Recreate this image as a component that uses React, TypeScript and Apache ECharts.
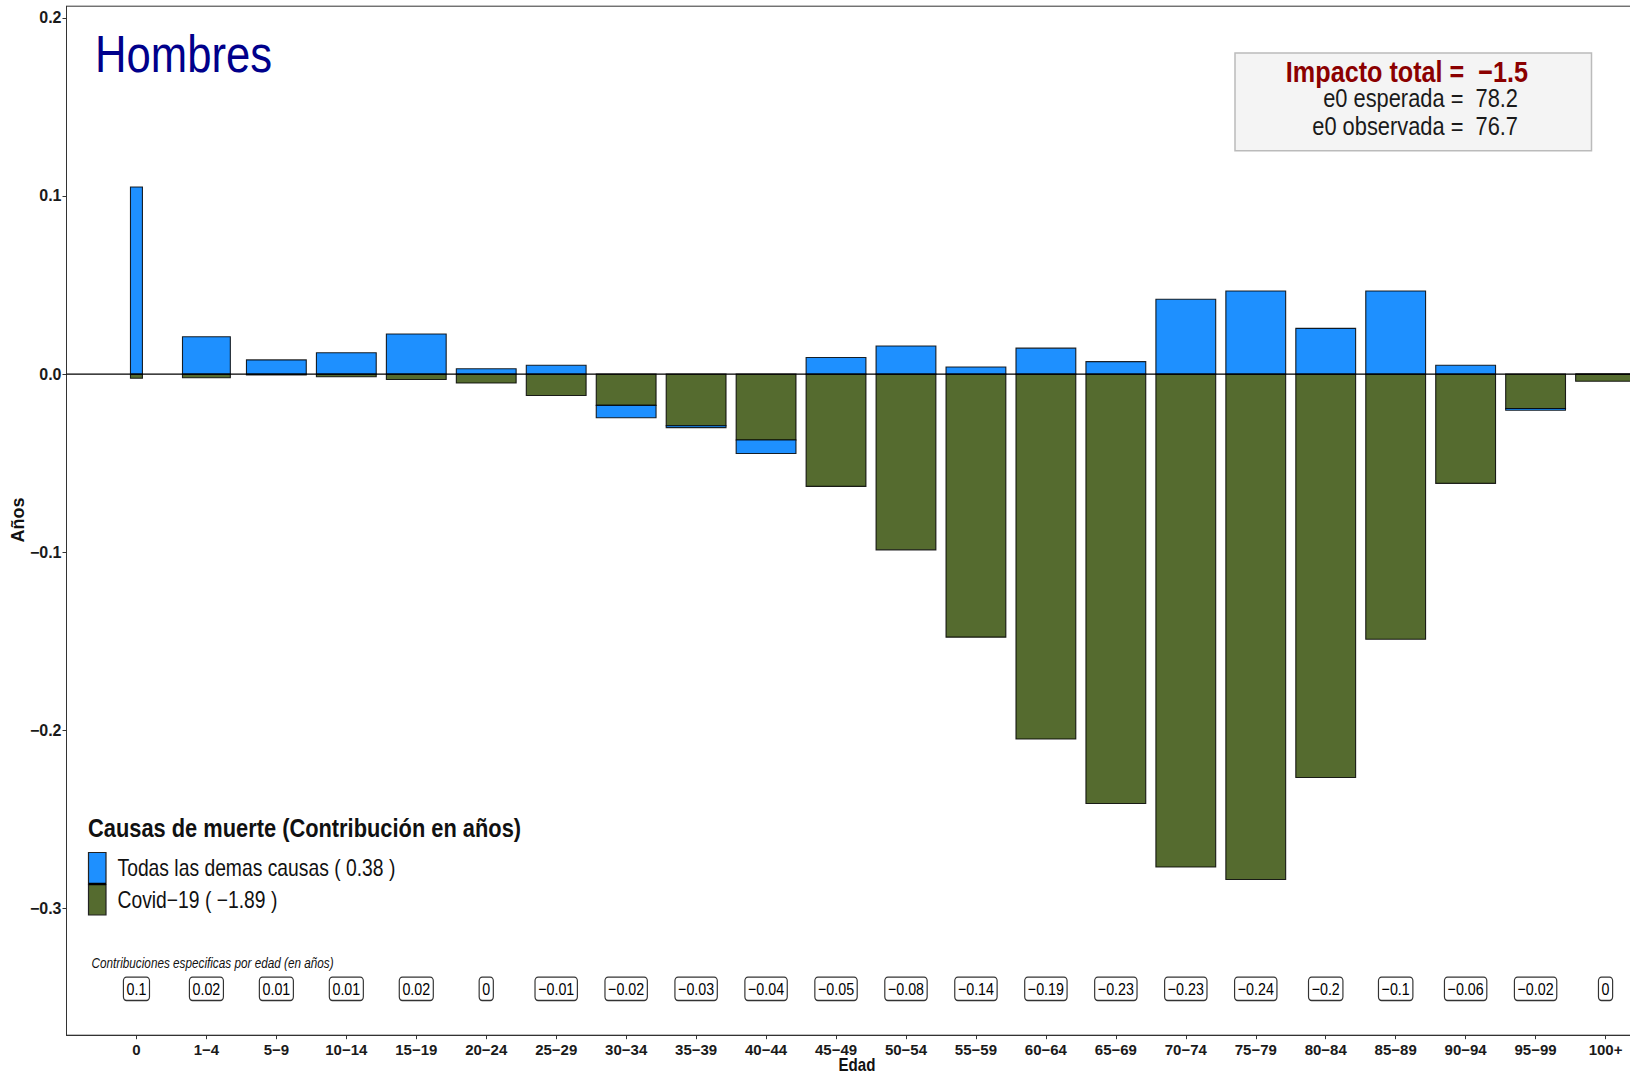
import React, { useEffect, useRef } from "react";
import * as echarts from "echarts";

const categories = ["0", "1−4", "5−9", "10−14", "15−19", "20−24", "25−29", "30−34", "35−39", "40−44", "45−49", "50−54", "55−59", "60−64", "65−69", "70−74", "75−79", "80−84", "85−89", "90−94", "95−99", "100+"];
const spanYears = [1, 4, 5, 5, 5, 5, 5, 5, 5, 5, 5, 5, 5, 5, 5, 5, 5, 5, 5, 5, 5, 5];
const otherCauses = [0.105, 0.021, 0.008, 0.012, 0.0225, 0.003, 0.005, -0.007, -0.001, -0.0075, 0.0093, 0.0158, 0.004, 0.0146, 0.007, 0.042, 0.0467, 0.0257, 0.0467, 0.005, -0.001, 0];
const covid = [-0.0023, -0.002, -0.0005, -0.0015, -0.003, -0.005, -0.012, -0.0175, -0.029, -0.037, -0.063, -0.0986, -0.1476, -0.2048, -0.241, -0.2766, -0.2836, -0.2264, -0.1488, -0.0613, -0.0193, -0.004];
const ageLabels = ["0.1", "0.02", "0.01", "0.01", "0.02", "0", "−0.01", "−0.02", "−0.03", "−0.04", "−0.05", "−0.08", "−0.14", "−0.19", "−0.23", "−0.23", "−0.24", "−0.2", "−0.1", "−0.06", "−0.02", "0"];
const yTicks = [-0.3, -0.2, -0.1, 0, 0.1, 0.2];
const xTicks = categories.map((_, i) => i);
const labelRowY = -0.345;

const NAME_OTHER = "Todas las demas causas ( 0.38 )";
const NAME_COVID = "Covid−19 ( −1.89 )";
const BLUE = "#1E90FF";
const GREEN = "#556B2F";
const FONT = "'Liberation Sans', Arial, sans-serif";
const SX = 0.84;
const YEAR_UNIT = 0.171;

function buildRects() {
  const greenData: number[][] = [];
  const blueData: number[][] = [];
  categories.forEach((_, i) => {
    const g = covid[i];
    const b = otherCauses[i];
    const w = spanYears[i] * YEAR_UNIT;
    let posTop = 0;
    let negTop = 0;
    greenData.push([i, 0, g, w]);
    if (g < 0) negTop = g; else posTop = g;
    if (b < 0) blueData.push([i, negTop, negTop + b, w]);
    else blueData.push([i, posTop, posTop + b, w]);
  });
  return { greenData, blueData };
}

function makeRender(color: string) {
  return (params: any, api: any) => {
    const x = api.value(0);
    const b = api.value(1);
    const t = api.value(2);
    const w = api.value(3);
    const p1 = api.coord([x - w / 2, t]);
    const p2 = api.coord([x + w / 2, b]);
    return {
      type: "rect",
      shape: { x: p1[0], y: Math.min(p1[1], p2[1]), width: p2[0] - p1[0], height: Math.abs(p2[1] - p1[1]) },
      style: { fill: color, stroke: "rgba(0,0,0,0.85)", lineWidth: 1.1 },
    };
  };
}

function renderBoxLabel(params: any, api: any) {
  const p = api.coord([api.value(0), api.value(1)]);
  return {
    type: "text",
    x: p[0],
    y: p[1],
    scaleX: SX,
    style: {
      text: ageLabels[params.dataIndex],
      fontFamily: FONT, fontSize: 17, fill: "#000",
      align: "center", verticalAlign: "middle",
      backgroundColor: "#fff", borderColor: "#333", borderWidth: 1.4, borderRadius: 3,
      padding: [3, 3, 2, 3],
    },
  };
}

export default function App() {
  const ref = useRef<HTMLDivElement>(null);
  useEffect(() => {
    if (!ref.current) return;
    const chart = echarts.init(ref.current, undefined, { renderer: "svg" });
    const { greenData, blueData } = buildRects();
    const option: any = {
      animation: false,
      backgroundColor: "#ffffff",
      grid: { left: 66.5, top: 6.2, width: 1609, height: 1029, show: true, borderColor: "#333", borderWidth: 1, backgroundColor: "transparent", outerBoundsMode: "none", containLabel: false },
      xAxis: {
        type: "value",
        min: -1,
        max: 22,
        interval: 1,
        splitLine: { show: false },
        axisLine: { show: true, onZero: false, lineStyle: { color: "#333", width: 1 } },
        axisTick: { show: true, length: 4, customValues: xTicks, lineStyle: { color: "#333" } },
        axisLabel: {
          customValues: xTicks,
          formatter: (v: number) => categories[Math.round(v)] ?? "",
          fontFamily: FONT, fontWeight: "bold", fontSize: 15, color: "#1a1a1a", margin: 7,
        },
      },
      yAxis: {
        type: "value",
        min: -0.371,
        max: 0.2065,
        splitLine: { show: false },
        axisLine: { show: true, onZero: false, lineStyle: { color: "#333", width: 1 } },
        axisTick: { show: true, length: 4, customValues: yTicks, lineStyle: { color: "#333" } },
        axisLabel: {
          customValues: yTicks,
          formatter: (v: number) => v.toFixed(1).replace("-", "−"),
          fontFamily: FONT, fontWeight: "bold", fontSize: 16, color: "#1a1a1a", margin: 5,
        },
      },
      series: [
        { name: NAME_COVID, type: "custom", renderItem: makeRender(GREEN), data: greenData, encode: { x: 0, y: [1, 2] }, z: 2 },
        { name: NAME_OTHER, type: "custom", renderItem: makeRender(BLUE), data: blueData, encode: { x: 0, y: [1, 2] }, z: 2 },
        {
          name: "zero", type: "line", data: [[-1, 0], [22, 0]], symbol: "none", silent: true, z: 5,
          lineStyle: { color: "#000", width: 1.2 },
        },
        {
          name: "Contribuciones", type: "custom", renderItem: renderBoxLabel, silent: true, z: 6,
          data: categories.map((_, i) => [i, labelRowY]),
          encode: { x: 0, y: 1 },
        },
      ],
      graphic: [
        { type: "text", x: 95, y: 54, scaleX: SX, style: { text: "Hombres", fontFamily: FONT, fontSize: 52, fill: "#00008B", verticalAlign: "middle" } },
        { type: "rect", shape: { x: 1235, y: 53, width: 356.5, height: 97.7 }, style: { fill: "#F4F4F4", stroke: "#BBBBBB", lineWidth: 1.5 } },
        { type: "text", x: 1528, y: 72, scaleX: SX, style: { text: "Impacto total =  −1.5", fontFamily: FONT, fontWeight: "bold", fontSize: 30, fill: "#8B0000", align: "right", verticalAlign: "middle" } },
        { type: "text", x: 1518, y: 98, scaleX: SX, style: { text: "e0 esperada =  78.2", fontFamily: FONT, fontSize: 26, fill: "#1a1a1a", align: "right", verticalAlign: "middle" } },
        { type: "text", x: 1518, y: 126, scaleX: SX, style: { text: "e0 observada =  76.7", fontFamily: FONT, fontSize: 26, fill: "#1a1a1a", align: "right", verticalAlign: "middle" } },
        { type: "text", x: 88, y: 828, scaleX: SX, style: { text: "Causas de muerte (Contribución en años)", fontFamily: FONT, fontWeight: "bold", fontSize: 26, fill: "#111", verticalAlign: "middle" } },
        { type: "rect", shape: { x: 88.5, y: 852.5, width: 17.5, height: 31.5 }, style: { fill: BLUE, stroke: "#222", lineWidth: 1.2 } },
        { type: "rect", shape: { x: 88.5, y: 884.5, width: 17.5, height: 30.5 }, style: { fill: GREEN, stroke: "#222", lineWidth: 1.2 } },
        { type: "line", shape: { x1: 88.5, y1: 884, x2: 106, y2: 884 }, style: { stroke: "#000", lineWidth: 2.5 } },
        { type: "text", x: 117.5, y: 868, scaleX: SX, style: { text: NAME_OTHER, fontFamily: FONT, fontSize: 23, fill: "#111", verticalAlign: "middle" } },
        { type: "text", x: 117.5, y: 900, scaleX: SX, style: { text: NAME_COVID, fontFamily: FONT, fontSize: 23, fill: "#111", verticalAlign: "middle" } },
        { type: "text", x: 91.5, y: 963, scaleX: SX, style: { text: "Contribuciones especificas por edad (en años)", fontFamily: FONT, fontStyle: "italic", fontSize: 14, fill: "#111", verticalAlign: "middle" } },
        { type: "text", x: 18, y: 520, rotation: Math.PI / 2, style: { text: "Años", fontFamily: FONT, fontWeight: "bold", fontSize: 18, fill: "#111", align: "center", verticalAlign: "middle" } },
        { type: "text", x: 857, y: 1065, scaleX: SX, style: { text: "Edad", fontFamily: FONT, fontWeight: "bold", fontSize: 18, fill: "#111", align: "center", verticalAlign: "middle" } },
      ],
    };
    chart.setOption(option);
    return () => chart.dispose();
  }, []);
  return <div ref={ref} style={{ position: "fixed", left: 0, top: 0, width: 1630, height: 1077 }} />;
}
